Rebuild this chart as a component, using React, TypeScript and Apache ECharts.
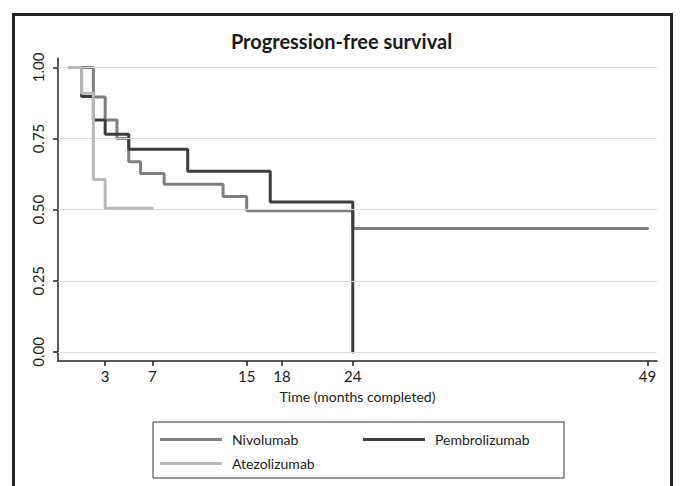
import React, { useEffect, useRef } from "react";
import * as echarts from "echarts";

const seriesNames = ["Nivolumab", "Pembrolizumab", "Atezolizumab"];
const nivolumab: [number, number][] = [
  [0, 1], [2, 0.896], [3, 0.815], [4, 0.75], [5, 0.668], [6, 0.627],
  [8, 0.589], [13, 0.546], [15, 0.496], [24, 0.434], [49, 0.434],
];
const pembrolizumab: [number, number][] = [
  [0, 1], [1, 0.898], [2, 0.815], [3, 0.765], [5, 0.712], [10, 0.635],
  [17, 0.527], [24, 0],
];
const atezolizumab: [number, number][] = [
  [0, 1], [1, 0.909], [2, 0.606], [3, 0.505], [7, 0.505],
];
const xTicks = [3, 7, 15, 18, 24, 49];
const yTicks = [0, 0.25, 0.5, 0.75, 1];
const colors = ["#7f7f7f", "#3c3c3c", "#b9b9b9"];

const FONT = "Lato";

export default function App() {
  const ref = useRef<HTMLDivElement>(null);
  useEffect(() => {
    if (!ref.current) return;
    const chart = echarts.init(ref.current, undefined, { renderer: "svg" });
    const datasets = [nivolumab, pembrolizumab, atezolizumab];
    chart.setOption({
      animation: false,
      backgroundColor: "#ffffff",
      title: {
        text: "Progression-free survival",
        left: "center",
        top: 31,
        padding: 0,
        textStyle: { fontFamily: FONT, fontSize: 20, fontWeight: "bold", color: "#1a1a1a" },
      },
      grid: { left: 58, top: 58, right: 26, bottom: 125, containLabel: false },
      xAxis: {
        type: "value",
        min: -1,
        max: 49.8,
        name: "Time (months completed)",
        nameLocation: "middle",
        nameGap: 28,
        nameTextStyle: { fontFamily: FONT, fontSize: 14, color: "#1a1a1a" },
        axisLine: { show: true, onZero: false, lineStyle: { color: "#222", width: 1.5 } },
        axisTick: { show: true, length: 5, customValues: xTicks, lineStyle: { color: "#222", width: 1.5 } },
        axisLabel: { customValues: xTicks, fontFamily: FONT, fontSize: 15, color: "#1a1a1a", margin: 7 },
        splitLine: { show: false },
      },
      yAxis: {
        type: "value",
        min: -0.032,
        max: 1.033,
        axisLine: { show: true, onZero: false, lineStyle: { color: "#222", width: 1.5 } },
        axisTick: { show: true, length: 5, customValues: yTicks, lineStyle: { color: "#222", width: 1.5 } },
        axisLabel: {
          customValues: yTicks,
          rotate: 90,
          fontFamily: FONT,
          fontSize: 15,
          color: "#1a1a1a",
          margin: 13,
          formatter: (v: number) => v.toFixed(2),
        },
        splitLine: { show: false },
      },
      legend: {
        data: seriesNames,
        left: 153,
        top: 422,
        width: 420,
        orient: "horizontal",
        icon: "rect",
        itemWidth: 62,
        itemHeight: 3,
        itemGap: 5,
        padding: [8, 3, 5, 7],
        borderColor: "#333",
        borderWidth: 1,
        textStyle: {
          fontFamily: FONT,
          fontSize: 14,
          color: "#1a1a1a",
          width: 126,
          lineHeight: 19,
          padding: [0, 0, 0, 5],
        },
      },
      graphic: [
        {
          type: "rect",
          shape: { x: 13.5, y: 14.5, width: 658, height: 500 },
          style: { fill: "none", stroke: "#222", lineWidth: 3 },
          silent: true,
        },
      ],
      series: [
        {
          type: "line",
          name: "grid",
          data: [],
          silent: true,
          z: 1,
          markLine: {
            silent: true,
            symbol: "none",
            label: { show: false },
            lineStyle: { color: "#dadada", width: 1, type: "solid" },
            data: yTicks.map((v) => ({ yAxis: v })),
          },
        },
        ...datasets.map((d, i) => ({
          type: "line",
          name: seriesNames[i],
          data: d,
          step: "end",
          symbol: "none",
          z: 3 + i,
          lineStyle: { color: colors[i], width: 3, cap: "round" },
          itemStyle: { color: colors[i] },
        })),
      ],
    });
    return () => chart.dispose();
  }, []);
  return (
    <div
      ref={ref}
      style={{ position: "fixed", left: 0, top: 0, width: 683, height: 486 }}
    />
  );
}
